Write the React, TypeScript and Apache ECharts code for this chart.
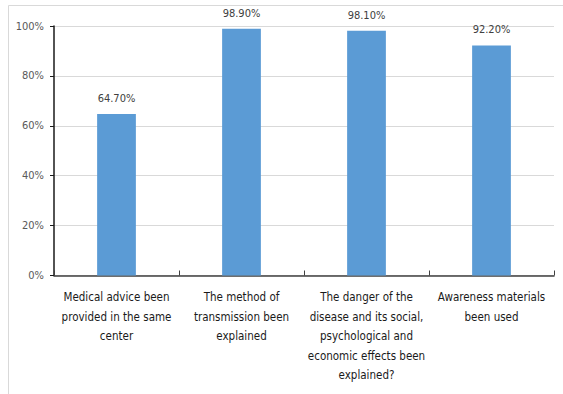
import React, { useEffect, useRef } from "react";
import * as echarts from "echarts";

const categories = [
  "Medical advice been\nprovided in the same\ncenter",
  "The method of\ntransmission been\nexplained",
  "The danger of the\ndisease and its social,\npsychological and\neconomic effects been\nexplained?",
  "Awareness materials\nbeen used",
];
const values = [64.7, 98.9, 98.1, 92.2];
const yTicks = { min: 0, max: 100, interval: 20 };

const FONT = "'DejaVu Sans Condensed', 'Open Sans', sans-serif";

export default function App() {
  const ref = useRef<HTMLDivElement>(null);
  useEffect(() => {
    if (!ref.current) return;
    const chart = echarts.init(ref.current, undefined, { renderer: "svg" });
    chart.setOption({
      animation: false,
      backgroundColor: "#ffffff",
      textStyle: { fontFamily: FONT },
      graphic: [
        {
          type: "rect",
          shape: { x: 8.5, y: 5.5, width: 600, height: 500 },
          style: { fill: "none", stroke: "#d9d9d9", lineWidth: 1 },
          silent: true,
        },
      ],
      grid: { left: 54, right: 9, top: 26, bottom: 118.5 },
      xAxis: {
        type: "category",
        data: categories,
        axisLine: { show: true, lineStyle: { color: "#404040", width: 1.5 } },
        axisTick: { show: true, inside: true, length: 5, lineStyle: { color: "#404040" } },
        axisLabel: {
          interval: 0,
          margin: 12,
          color: "#1a1a1a",
          fontSize: 11.5,
          lineHeight: 19.5,
          fontFamily: FONT,
        },
      },
      yAxis: {
        type: "value",
        min: yTicks.min,
        max: yTicks.max,
        interval: yTicks.interval,
        axisLine: { show: true, lineStyle: { color: "#1a1a1a", width: 1.5 } },
        axisTick: { show: true, length: 4, lineStyle: { color: "#1a1a1a" } },
        splitLine: { lineStyle: { color: "#d9d9d9", width: 1 } },
        axisLabel: {
          margin: 10,
          color: "#595959",
          fontSize: 11,
          fontFamily: FONT,
          formatter: (v: number) => `${v}%`,
        },
      },
      series: [
        {
          type: "bar",
          data: values,
          barWidth: "31%",
          itemStyle: { color: "#5b9bd5" },
          label: {
            show: true,
            position: "top",
            distance: 10,
            color: "#404040",
            fontSize: 11,
            fontFamily: FONT,
            formatter: (p: any) => `${Number(p.value).toFixed(2)}%`,
          },
        },
      ],
    });
    return () => chart.dispose();
  }, []);
  return (
    <div
      ref={ref}
      style={{ position: "fixed", left: 0, top: 0, width: 563, height: 394 }}
    />
  );
}
